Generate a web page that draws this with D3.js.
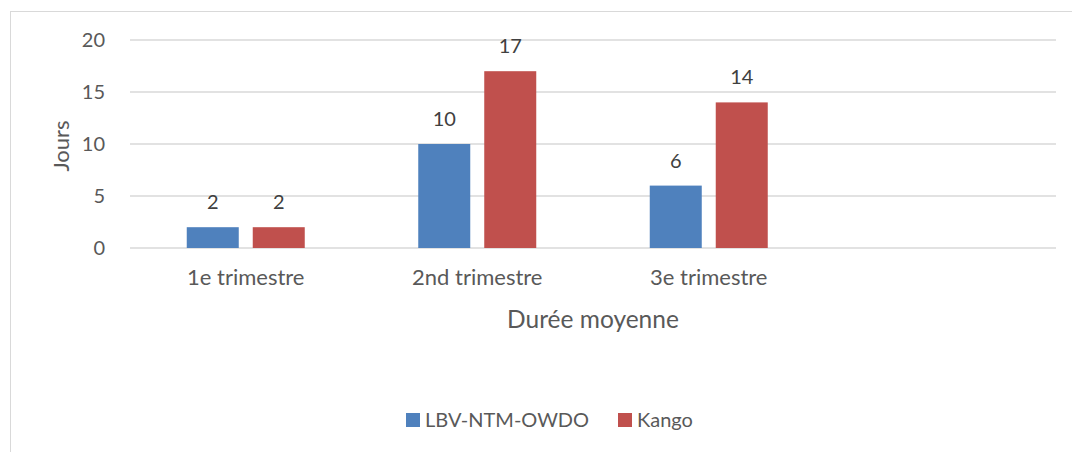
<!DOCTYPE html>
<html>
<head>
<meta charset="utf-8">
<script src="https://cdn.jsdelivr.net/npm/d3@7"></script>
<style>
  body { margin: 0; background: #fff; }
  svg { display: block; font-family: Lato, "Open Sans", sans-serif; }
</style>
</head>
<body>
<svg width="1072" height="452"></svg>
<script>
// data
var categories = ["1e trimestre", "2nd trimestre", "3e trimestre", ""]
var seriesNames = ["LBV-NTM-OWDO", "Kango"]
var seriesColors = ["#4f81bd", "#c0504d"]
var lbvValues = [2, 10, 6, null]
var kangoValues = [2, 17, 14, null]
var yTicks = [0, 5, 10, 15, 20]

var svg = d3.select("svg")

// outer frame of the chart
svg.append("rect")
  .attr("x", 10.5).attr("y", 11.5)
  .attr("width", 1080).attr("height", 460)
  .attr("fill", "none")
  .attr("stroke", "#d9d9d9")

var plotLeft = 130, plotRight = 1056, plotTop = 40, plotBottom = 248

var x = d3.scaleBand()
  .domain(categories.map((c, i) => i))
  .range([plotLeft, plotRight])

// two bars per group, 52px wide with a 14px gap
var xInner = d3.scaleBand()
  .domain(seriesNames)
  .range([0, 118])
  .paddingInner(0.212)

var y = d3.scaleLinear()
  .domain([0, 20])
  .range([plotBottom, plotTop])

// gridlines
svg.append("g")
  .selectAll("line")
  .data(yTicks)
  .enter()
  .append("line")
  .attr("x1", plotLeft).attr("x2", plotRight)
  .attr("y1", d => y(d)).attr("y2", d => y(d))
  .attr("stroke", "#d9d9d9")
  .attr("stroke-width", 1.5)

// y tick labels
svg.append("g")
  .selectAll("text")
  .data(yTicks)
  .enter()
  .append("text")
  .attr("x", 105)
  .attr("y", d => y(d))
  .attr("dy", "0.35em")
  .attr("text-anchor", "end")
  .attr("font-size", 20)
  .attr("fill", "#595959")
  .text(d => d)

// bars
var rows = []
categories.forEach((c, i) => {
  if (lbvValues[i] != null) rows.push({ cat: i, s: 0, v: lbvValues[i] })
  if (kangoValues[i] != null) rows.push({ cat: i, s: 1, v: kangoValues[i] })
})

function barX(d) {
  return x(d.cat) + (x.bandwidth() - 118) / 2 + xInner(seriesNames[d.s])
}

svg.append("g")
  .selectAll("rect")
  .data(rows)
  .enter()
  .append("rect")
  .attr("x", barX)
  .attr("y", d => y(d.v))
  .attr("width", xInner.bandwidth())
  .attr("height", d => y(0) - y(d.v))
  .attr("fill", d => seriesColors[d.s])

// data labels
svg.append("g")
  .selectAll("text")
  .data(rows)
  .enter()
  .append("text")
  .attr("x", d => barX(d) + xInner.bandwidth() / 2)
  .attr("y", d => y(d.v) - 18)
  .attr("text-anchor", "middle")
  .attr("font-size", 20)
  .attr("fill", "#404040")
  .text(d => d.v)

// category labels
svg.append("g")
  .selectAll("text")
  .data(categories)
  .enter()
  .append("text")
  .attr("x", (d, i) => x(i) + x.bandwidth() / 2)
  .attr("y", 285)
  .attr("text-anchor", "middle")
  .attr("font-size", 22)
  .attr("fill", "#595959")
  .text(d => d)

// axis titles
svg.append("text")
  .attr("transform", "translate(69,146) rotate(-90)")
  .attr("text-anchor", "middle")
  .attr("font-size", 22)
  .attr("fill", "#595959")
  .text("Jours")

svg.append("text")
  .attr("x", 593)
  .attr("y", 328)
  .attr("text-anchor", "middle")
  .attr("font-size", 24.5)
  .attr("fill", "#595959")
  .text("Durée moyenne")

// legend
var legendX = [406, 618]
var legend = svg.append("g")
  .selectAll("g")
  .data(seriesNames)
  .enter()
  .append("g")
  .attr("transform", (d, i) => "translate(" + legendX[i] + ",413)")

legend.append("rect")
  .attr("width", 14).attr("height", 14)
  .attr("fill", (d, i) => seriesColors[i])

legend.append("text")
  .attr("x", 19)
  .attr("y", 7)
  .attr("dy", "0.35em")
  .attr("font-size", 20)
  .attr("fill", "#595959")
  .text(d => d)
</script>
</body>
</html>
